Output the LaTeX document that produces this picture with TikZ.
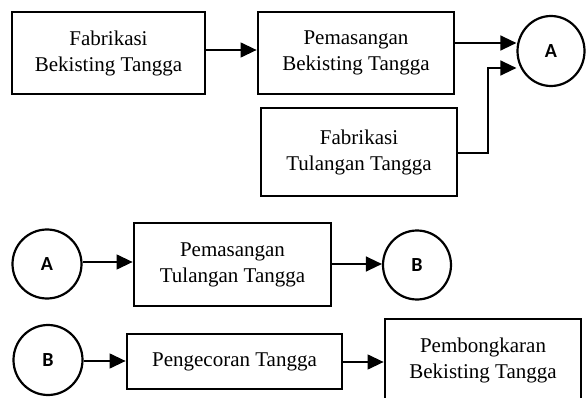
\documentclass[tikz,border=0pt]{standalone}
\usepackage{fontspec}
\setmainfont{Liberation Serif}
\newfontfamily\lblfont{Carlito}
\usetikzlibrary{arrows.meta,shapes.geometric}
\begin{document}
\begin{tikzpicture}[x=1pt,y=-1pt,
  procbox/.style={draw, line width=2.8pt, rectangle, inner sep=0pt, align=center,
    font=\fontsize{21}{26}\selectfont},
  conn/.style={draw, ellipse, line width=2.2pt, inner sep=0pt,
    font=\lblfont\bfseries\fontsize{20}{22}\selectfont},
  arr/.style={line width=1.3pt, -{Triangle[length=16pt,width=15pt]}}]
\useasboundingbox (0,0) rectangle (586,398);
\clip (0,0) rectangle (586,398);
\fill[white] (0,0) rectangle (586,398);
% row 1
\node[procbox, minimum width=193pt, minimum height=82pt] (b1) at (108.5,53) {Fabrikasi\\Bekisting Tangga};
\node[procbox, minimum width=196pt, minimum height=82pt] (b2) at (356,53) {Pemasangan\\Bekisting Tangga};
\node[procbox, minimum width=196pt, minimum height=88pt] (b3) at (359,152) {Fabrikasi\\Tulangan Tangga};
\node[conn, minimum width=67pt, minimum height=70pt] (a1) at (551,51) {A};
\coordinate (k1) at (488,68);
\draw[arr] (b1.east |- 0,50) -- (b2.west |- 0,50);
\draw[arr] (b2.east |- 0,43) -- (a1.west |- 0,43);
\draw[arr] (b3.east |- 0,153) -| (k1) -- (a1.west |- k1);
% row 2
\node[conn, minimum width=69pt, minimum height=69pt] (a2) at (47,264) {A};
\node[procbox, minimum width=197pt, minimum height=83pt] (b4) at (232.5,264.5) {Pemasangan\\Tulangan Tangga};
\node[conn, minimum width=68pt, minimum height=69pt] (bb1) at (417,265) {B};
\draw[arr] (a2.east |- 0,262) -- (b4.west |- 0,262);
\draw[arr] (b4.east |- 0,264) -- (bb1.west |- 0,264);
% row 3
\node[conn, minimum width=69pt, minimum height=70pt] (bb2) at (48,360) {B};
\node[procbox, minimum width=215pt, minimum height=55pt] (b5) at (234.5,361.5) {Pengecoran Tangga};
\node[procbox, minimum width=196pt, minimum height=82pt] (b6) at (483,360) {Pembongkaran\\Bekisting Tangga};
\draw[arr] (bb2.east |- 0,361) -- (b5.west |- 0,361);
\draw[arr] (b5.east |- 0,362) -- (b6.west |- 0,362);
\end{tikzpicture}
\end{document}
